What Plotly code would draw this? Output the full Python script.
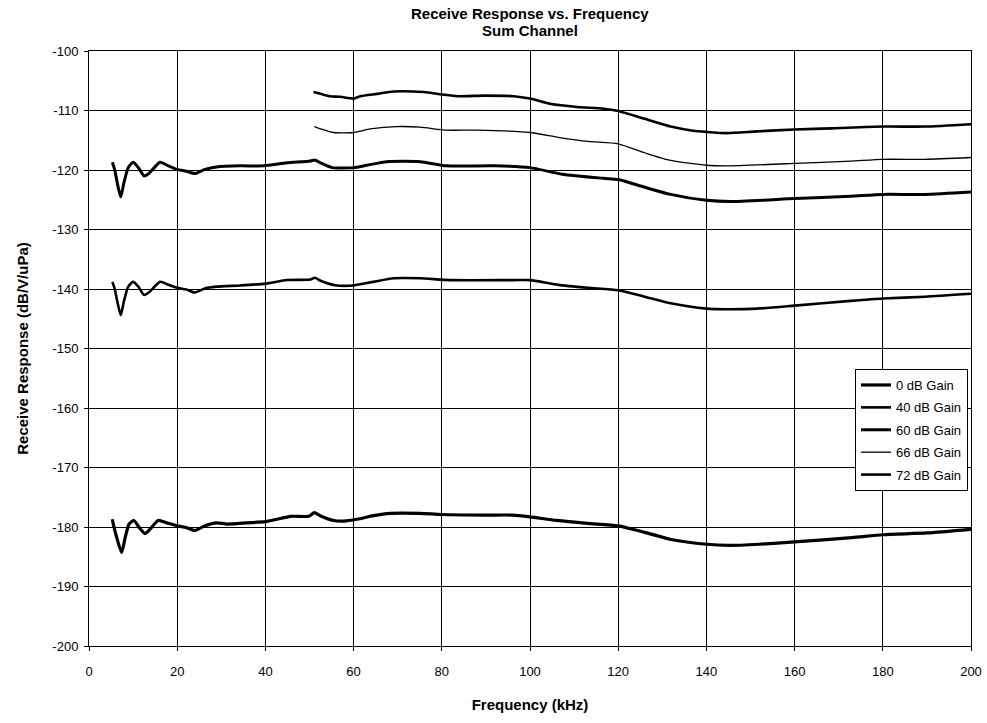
import plotly.graph_objects as go

# ---- data ----
freq_0 = [5.3, 5.5, 6.3, 7.4, 8.2, 9.1, 10.2, 11.4, 12.7, 13.8, 15.7, 17.6, 20, 22.1, 24, 26.3, 28.9,
          31.3, 35.8, 40, 42.6, 45.7, 49.8, 51.1, 52.4, 55.5, 57.7, 60.8, 64.5, 68.3, 75, 80, 90, 96,
          100, 106, 113, 120, 126, 132, 140, 145, 152, 160, 173, 180, 190, 200]
resp_0 = [-178.7, -179.5, -181.8, -184.3, -181.8, -179.5, -178.9, -180.1, -181.1, -180.4, -178.9, -179.3,
          -179.8, -180.1, -180.6, -179.8, -179.3, -179.5, -179.3, -179.1, -178.7, -178.2, -178.2, -177.6,
          -178.1, -178.9, -179.0, -178.7, -178.1, -177.7, -177.7, -177.9, -178.0, -178.0, -178.3, -178.9,
          -179.4, -179.8, -180.9, -182.1, -182.9, -183.1, -182.9, -182.5, -181.8, -181.3, -181.0, -180.4]

freq_40 = [5.3, 5.8, 6.5, 7.2, 7.9, 8.9, 10.0, 11.2, 12.5, 13.7, 16.1, 18.0, 20, 22.1, 24, 26.3, 28.9,
           34.3, 40, 44.9, 50.2, 51.2, 52.5, 56.2, 60, 64.5, 69.1, 75.1, 81.9, 96.3, 100, 106.4, 113.2,
           120, 126, 131.9, 140, 144.7, 151.5, 160, 172.7, 180, 189.6, 200]
resp_40 = [-138.8, -139.9, -142.4, -144.4, -142.1, -139.6, -138.8, -139.6, -141.0, -140.5, -138.8, -139.3,
           -139.8, -140.1, -140.6, -139.9, -139.6, -139.4, -139.1, -138.5, -138.4, -138.1, -138.6, -139.4,
           -139.4, -138.8, -138.2, -138.2, -138.5, -138.5, -138.5, -139.3, -139.8, -140.2, -141.3, -142.4,
           -143.3, -143.4, -143.3, -142.8, -142.0, -141.6, -141.3, -140.8]

freq_60 = [5.3, 5.8, 6.5, 7.2, 7.9, 8.9, 10.0, 11.2, 12.5, 13.7, 16.1, 18.0, 20, 22.1, 24, 26.3, 28.9,
           34.3, 39.6, 44.9, 50.2, 51.2, 52.5, 55.1, 60, 63, 67.5, 75.1, 81, 92, 100, 107.3, 116.7,
           120, 126, 131.9, 140, 145.5, 160, 172.7, 180, 189.6, 200]
resp_60 = [-118.7, -119.9, -122.5, -124.5, -122.2, -119.6, -118.7, -119.6, -121.0, -120.5, -118.7, -119.3,
           -119.9, -120.2, -120.6, -119.9, -119.5, -119.3, -119.3, -118.8, -118.5, -118.3, -118.8, -119.6,
           -119.6, -119.2, -118.6, -118.6, -119.3, -119.3, -119.6, -120.7, -121.4, -121.6, -122.9, -124.1,
           -125.1, -125.3, -124.8, -124.4, -124.1, -124.1, -123.7]

freq_66 = [51.1, 52.5, 55.5, 60, 63.8, 69.8, 75.1, 81, 87.8, 100, 106.4, 113.2, 120, 126, 131.9, 140,
           144.7, 160, 172.7, 180, 189.6, 200]
resp_66 = [-112.7, -113.1, -113.7, -113.7, -113.1, -112.7, -112.8, -113.3, -113.3, -113.7, -114.5, -115.2,
           -115.6, -117.1, -118.4, -119.2, -119.3, -118.9, -118.5, -118.2, -118.2, -117.9]

freq_72 = [50.9, 52.5, 54.7, 57, 60, 61.5, 65.3, 69.1, 75.9, 80, 83.6, 89.5, 96.3, 100, 104.8, 110.7,
           116.7, 120, 126, 131.9, 137, 140, 144.7, 151.5, 160, 168.5, 180, 189.6, 200]
resp_72 = [-106.9, -107.2, -107.6, -107.7, -108.0, -107.6, -107.2, -106.8, -106.9, -107.3, -107.6, -107.5,
           -107.6, -108.0, -108.9, -109.4, -109.7, -110.1, -111.4, -112.7, -113.4, -113.6, -113.8, -113.5,
           -113.2, -113.0, -112.7, -112.7, -112.3]

series_names = ["0 dB Gain", "40 dB Gain", "60 dB Gain", "66 dB Gain", "72 dB Gain"]
title_lines = ["Receive Response vs. Frequency", "Sum Channel"]
x_ticks = [0, 20, 40, 60, 80, 100, 120, 140, 160, 180, 200]
y_ticks = [-100, -110, -120, -130, -140, -150, -160, -170, -180, -190, -200]

FONT = "Arial, 'Liberation Sans', sans-serif"

fig = go.Figure()
series = [(freq_0, resp_0, 3.2), (freq_40, resp_40, 2.6), (freq_60, resp_60, 3.0),
          (freq_66, resp_66, 1.3), (freq_72, resp_72, 2.6)]
for name, (fx, fy, w) in zip(series_names, series):
    fig.add_trace(go.Scatter(x=fx, y=fy, mode="lines", name=name, legendgroup=name,
                             line=dict(color="black", width=w, shape="spline", smoothing=0.6)))

fig.update_layout(
    width=987, height=723,
    margin=dict(l=89, r=16, t=51, b=77, autoexpand=False),
    paper_bgcolor="white", plot_bgcolor="white",
    font=dict(family=FONT, color="black", size=13),
    legend=dict(x=0.9966, xanchor="right", y=0.4655, yanchor="top",
                bordercolor="black", borderwidth=1, bgcolor="white",
                font=dict(family=FONT, size=13, color="black"),
                itemwidth=30, tracegroupgap=2.5),
    showlegend=True,
)
for text, shift in zip(title_lines, [38, 21]):
    fig.add_annotation(text="<b>" + text + "</b>", xref="paper", yref="paper", x=0.5, y=1,
                       xanchor="center", yanchor="middle", yshift=shift, showarrow=False,
                       font=dict(family=FONT, size=15, color="black"))

fig.update_xaxes(range=[0, 200], tickvals=x_ticks, ticktext=[str(t) for t in x_ticks],
                 showgrid=True, gridcolor="black", gridwidth=1, automargin=False,
                 ticklabeloverflow="allow",
                 showline=True, linecolor="black", linewidth=1, mirror=True,
                 ticks="outside", ticklen=4, tickcolor="black", zeroline=False, ticklabelstandoff=9,
                 title=dict(text="<b>Frequency (kHz)</b>", font=dict(family=FONT, size=15), standoff=21))
fig.update_yaxes(range=[-200, -100], tickvals=y_ticks, ticktext=[str(t) for t in y_ticks],
                 showgrid=True, gridcolor="black", gridwidth=1, automargin=False,
                 showline=True, linecolor="black", linewidth=1, mirror=True,
                 ticks="outside", ticklen=4, tickcolor="black", zeroline=False, ticklabelstandoff=3,
                 title=dict(text="<b>Receive Response (dB/V/uPa)</b>", font=dict(family=FONT, size=15), standoff=20))

# remove the browser's default 8px page margin so the 987x723 figure fills the window exactly
fig.write_html("out.html", config={"displayModeBar": False},
               post_script="document.body.style.margin='0px';"
                           "document.documentElement.style.overflow='hidden';")
